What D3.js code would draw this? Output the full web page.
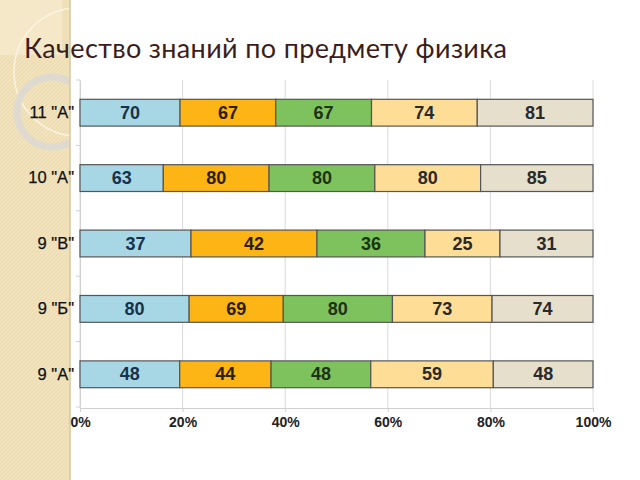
<!DOCTYPE html>
<html><head><meta charset="utf-8">
<script src="https://cdn.jsdelivr.net/npm/d3@7"></script>
<style>body{margin:0;background:#fff}svg{display:block}</style>
</head><body>
<script>
const categories = ['11 "А"','10 "А"','9 "В"','9 "Б"','9 "А"'];
const series1 = [70,63,37,80,48];
const series2 = [67,80,42,69,44];
const series3 = [67,80,36,80,48];
const series4 = [74,80,25,73,59];
const series5 = [81,85,31,74,48];
const seriesNames = ["s1","s2","s3","s4","s5"];
const tickLabels = ["0%","20%","40%","60%","80%","100%"];
const title = "Качество знаний по предмету физика";

const colors = ["#A7D7E5","#FDB515","#7DC25C","#FEDD96","#E6DFCC"];
const textColors = ["#17324a","#2b2000","#1c3311","#2a2a2a","#2a2a2a"];

const W=640,H=480;
const svg=d3.select("body").append("svg").attr("width",W).attr("height",H);
const defs=svg.append("defs");
const pat=defs.append("pattern").attr("id","hatch").attr("width",4).attr("height",4).attr("patternUnits","userSpaceOnUse");
pat.append("rect").attr("width",4).attr("height",4).attr("fill","#F2E3BD");
pat.append("path").attr("d","M0,4 L4,0").attr("stroke","#E9D8AD").attr("stroke-width",0.8);
pat.append("path").attr("d","M0,0 L4,4").attr("stroke","#EEDDB4").attr("stroke-width",0.6);
defs.append("clipPath").attr("id","stripe").append("rect").attr("x",0).attr("y",0).attr("width",70).attr("height",H);

// decorative stripe
const deco=svg.append("g");
deco.append("rect").attr("x",0).attr("y",0).attr("width",70).attr("height",H).attr("fill","url(#hatch)");
const dc=deco.append("g").attr("clip-path","url(#stripe)");
dc.append("rect").attr("x",0).attr("y",0).attr("width",62).attr("height",55).attr("fill","#F6EBCF").attr("opacity",0.7);
dc.append("circle").attr("cx",78).attr("cy",72).attr("r",64).attr("fill","none").attr("stroke","#FBF4E2").attr("stroke-width",1.5);
dc.append("circle").attr("cx",52).attr("cy",112).attr("r",35).attr("fill","none").attr("stroke","#DEDAD0").attr("stroke-width",7);
deco.append("line").attr("x1",70).attr("x2",70).attr("y1",0).attr("y2",H).attr("stroke","#D9C79A").attr("stroke-width",1.5);

// title
svg.append("text").attr("x",24).attr("y",58).text(title)
  .attr("font-family","Lato, 'Open Sans', sans-serif").attr("font-size",27).attr("fill","#3a1d1d")
  .attr("textLength",483).attr("lengthAdjust","spacing");

const x=d3.scaleLinear().domain([0,1]).range([80,593]);
const y=d3.scaleBand().domain(categories).range([80,407]).paddingInner(0.59).paddingOuter(0.295);

// grid
const g=svg.append("g");
g.selectAll("line.grid").data(d3.range(0,1.0001,0.2)).join("line").attr("class","grid")
  .attr("x1",d=>x(d)).attr("x2",d=>x(d)).attr("y1",80).attr("y2",408)
  .attr("stroke","#DADADA").attr("stroke-width",1);
// x axis
const xAxis=d3.axisBottom(x).tickValues(d3.range(0,1.0001,0.2)).tickFormat((d,i)=>tickLabels[i]).tickSize(4);
const xa=svg.append("g").attr("transform","translate(0,408)").call(xAxis);
xa.select(".domain").attr("stroke","#D0D0D0");
xa.selectAll(".tick line").attr("stroke","#D0D0D0");
xa.selectAll("text").attr("font-family","'Liberation Sans', Arial, sans-serif").attr("font-size",14).attr("font-weight","bold").attr("fill","#222").attr("dy","0.85em");
// y axis
const yAxis=d3.axisLeft(y).tickSize(0).tickPadding(6);
const ya=svg.append("g").attr("transform","translate(80,0)").call(yAxis);
ya.select(".domain").attr("stroke","#D0D0D0");
ya.selectAll("text").attr("font-family","'Liberation Sans', Arial, sans-serif").attr("font-size",16.5).attr("fill","#111").attr("stroke","#111").attr("stroke-width",0.25);
// band ticks
ya.selectAll("line.bt").data(d3.range(categories.length+1)).join("line").attr("class","bt")
  .attr("x1",-4).attr("x2",0)
  .attr("y1",i=>80+i*(327/categories.length)).attr("y2",i=>80+i*(327/categories.length))
  .attr("stroke","#D0D0D0");

// stacked data
const allSeries=[series1,series2,series3,series4,series5];
const rows=categories.map((c,i)=>{const o={cat:c};seriesNames.forEach((s,k)=>o[s]=allSeries[k][i]);return o;});
const stack=d3.stack().keys(seriesNames).offset(d3.stackOffsetExpand);
const stacked=stack(rows);

const layers=svg.append("g").selectAll("g").data(stacked).join("g");
layers.selectAll("rect").data((d,k)=>d.map(v=>({v,k}))).join("rect")
  .attr("x",d=>x(d.v[0])).attr("width",d=>x(d.v[1])-x(d.v[0]))
  .attr("y",d=>y(d.v.data.cat)).attr("height",y.bandwidth())
  .attr("fill",d=>colors[d.k]).attr("stroke","#555").attr("stroke-width",1.2);
layers.selectAll("text").data((d,k)=>d.map(v=>({v,k}))).join("text")
  .attr("x",d=>(x(d.v[0])+x(d.v[1]))/2).attr("y",d=>y(d.v.data.cat)+y.bandwidth()/2)
  .attr("text-anchor","middle").attr("dominant-baseline","central")
  .attr("font-family","'Liberation Sans', Arial, sans-serif").attr("font-size",18).attr("font-weight","bold")
  .attr("fill",d=>textColors[d.k])
  .text(d=>d.v.data[seriesNames[d.k]]);
</script>
</body></html>
